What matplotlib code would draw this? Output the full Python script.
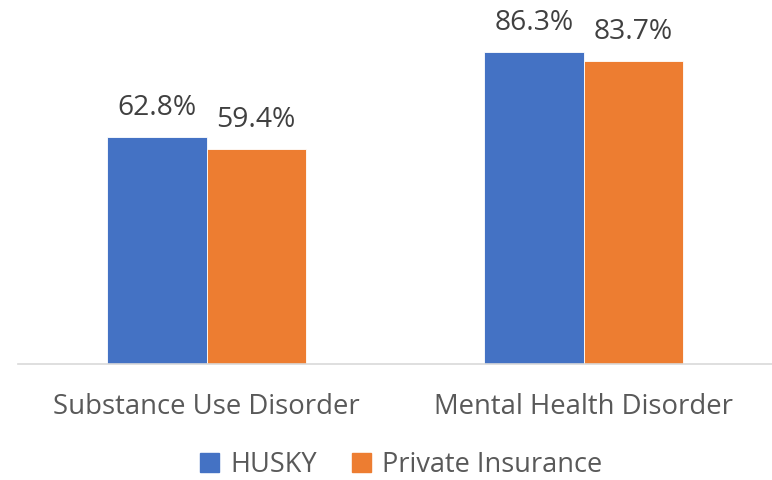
import numpy as np
import matplotlib.pyplot as plt
from matplotlib.patches import Patch

# data
categories = ['Substance Use Disorder', 'Mental Health Disorder']
husky = [62.8, 86.3]
private = [59.4, 83.7]
series_names = ['HUSKY', 'Private Insurance']

blue = '#4472C4'
orange = '#ED7D31'
grey = '#595959'

plt.rcParams['font.family'] = ['Open Sans', 'DejaVu Sans']

fig = plt.figure(figsize=(7.72, 4.80), dpi=100)
W, H = 772, 480
ax = fig.add_axes([18 / W, (H - 364) / H, (772 - 18) / W, (364 - 2.5) / H])

x = np.arange(len(categories))
w = 0.263
b1 = ax.bar(x - w / 2, husky, w, color=blue, edgecolor='white', linewidth=0.6)
b2 = ax.bar(x + w / 2, private, w, color=orange, edgecolor='white', linewidth=0.6)

for bars, vals in ((b1, husky), (b2, private)):
    for r, v in zip(bars, vals):
        ax.annotate(f'{v:.1f}%', (r.get_x() + r.get_width() / 2, v),
                    xytext=(0, 11), textcoords='offset points',
                    ha='center', va='bottom', fontsize=20.3, color='#404040')

ax.set_xlim(-0.5, 1.5)
ax.set_ylim(0, 100)
ax.set_yticks([])
ax.set_xticks(x)
ax.set_xticklabels(categories, fontsize=19.8, color=grey)
ax.tick_params(axis='x', length=0, pad=21)
for s in ('top', 'right', 'left'):
    ax.spines[s].set_visible(False)
ax.spines['bottom'].set_color('#D9D9D9')
ax.spines['bottom'].set_linewidth(1.2)

handles = [Patch(color=blue), Patch(color=orange)]
fig.legend(handles, series_names, loc='center', bbox_to_anchor=(401 / W, 1 - 465 / H),
           ncol=2, frameon=False, fontsize=19.5, labelcolor=grey,
           handlelength=0.7, handleheight=0.7, handletextpad=0.4, columnspacing=1.3,
           borderpad=0.1)

fig.savefig('out.png', dpi=100)
